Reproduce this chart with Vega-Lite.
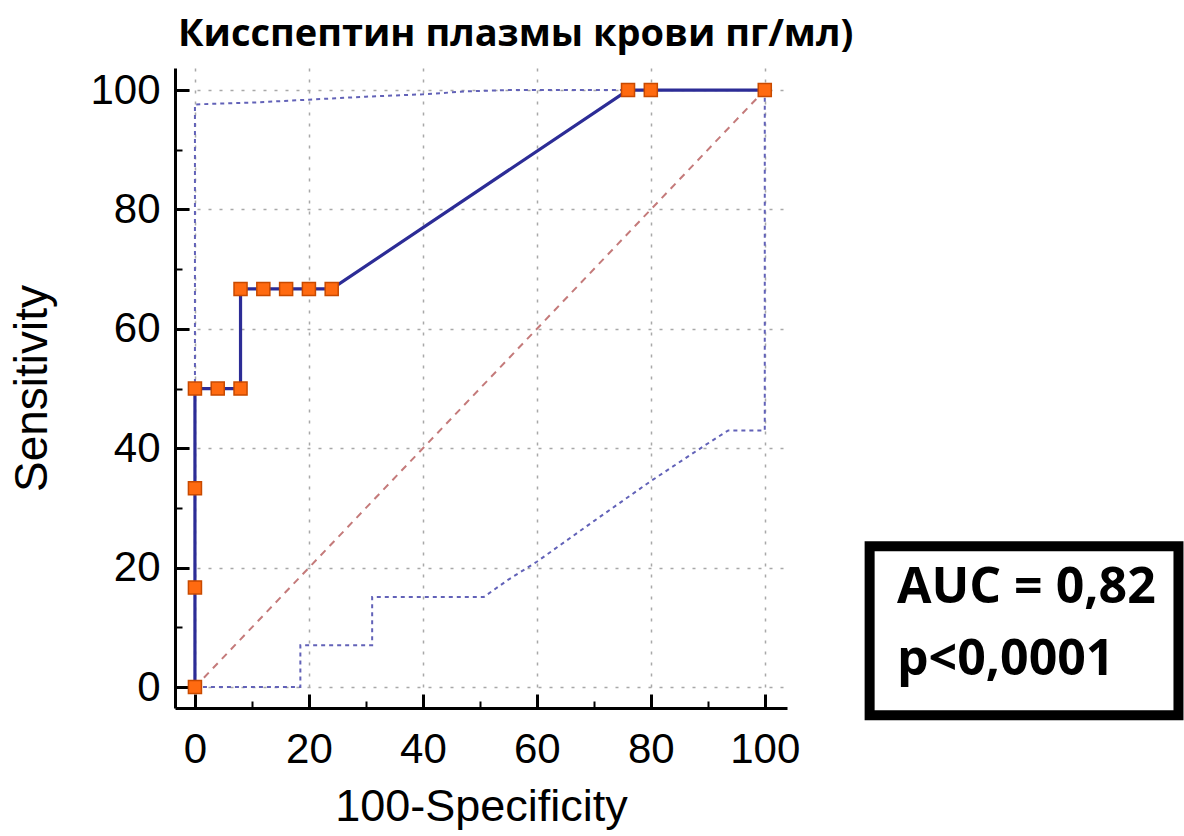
{
  "$schema": "https://vega.github.io/schema/vega-lite/v6.json",
  "width": 612,
  "height": 640,
  "autosize": "none",
  "padding": {"left": 175, "top": 68, "right": 397, "bottom": 128},
  "background": "white",
  "config": {"view": {"stroke": null}},
  "title": {
    "text": "Кисспептин плазмы крови пг/мл)",
    "font": "Open Sans",
    "fontWeight": "bold",
    "fontSize": 38,
    "color": "black",
    "anchor": "start",
    "frame": "group",
    "dx": 3,
    "offset": -16,
    "baseline": "alphabetic"
  },
  "datasets": {
    "roc": [
      {"i": 0, "x": 0, "y": 0},
      {"i": 1, "x": 0, "y": 16.7},
      {"i": 2, "x": 0, "y": 33.3},
      {"i": 3, "x": 0, "y": 50},
      {"i": 4, "x": 4, "y": 50},
      {"i": 5, "x": 8, "y": 50},
      {"i": 6, "x": 8, "y": 66.7},
      {"i": 7, "x": 12, "y": 66.7},
      {"i": 8, "x": 16, "y": 66.7},
      {"i": 9, "x": 20, "y": 66.7},
      {"i": 10, "x": 24, "y": 66.7},
      {"i": 11, "x": 76, "y": 100},
      {"i": 12, "x": 80, "y": 100},
      {"i": 13, "x": 100, "y": 100}
    ],
    "upper": [
      {"i": 0, "x": 0, "y": 0},
      {"i": 1, "x": 0, "y": 97.6},
      {"i": 2, "x": 10, "y": 97.9},
      {"i": 3, "x": 20, "y": 98.4},
      {"i": 4, "x": 30, "y": 98.9},
      {"i": 5, "x": 40, "y": 99.3},
      {"i": 6, "x": 48, "y": 99.8},
      {"i": 7, "x": 55, "y": 100},
      {"i": 8, "x": 100, "y": 100}
    ],
    "lower": [
      {"i": 0, "x": 0, "y": 0},
      {"i": 1, "x": 18.5, "y": 0},
      {"i": 2, "x": 18.5, "y": 7},
      {"i": 3, "x": 31.1, "y": 7},
      {"i": 4, "x": 31.1, "y": 15.1},
      {"i": 5, "x": 50.7, "y": 15.1},
      {"i": 6, "x": 55, "y": 18},
      {"i": 7, "x": 60, "y": 21},
      {"i": 8, "x": 70, "y": 27.8},
      {"i": 9, "x": 80, "y": 34.5},
      {"i": 10, "x": 89.5, "y": 40.5},
      {"i": 11, "x": 93.6, "y": 43},
      {"i": 12, "x": 100, "y": 43},
      {"i": 13, "x": 100, "y": 100}
    ],
    "diag": [
      {"i": 0, "x": 0, "y": 0},
      {"i": 1, "x": 100, "y": 100}
    ],
    "note": [
      {"label": "AUC = 0,82\np<0,0001"}
    ]
  },
  "layer": [
    {
      "data": {"name": "diag"},
      "mark": {"type": "line", "color": "#c47a7a", "strokeWidth": 2, "strokeDash": [7, 6]},
      "encoding": {
        "x": {
          "field": "x",
          "type": "quantitative",
          "scale": {"domain": [-3.5, 103.9], "nice": false, "zero": false},
          "axis": {
            "title": "100-Specificity",
            "titleFont": "Liberation Sans",
            "titleFontSize": 45,
            "titleFontWeight": "normal",
            "titleColor": "black",
            "titlePadding": 7,
            "values": [0, 5, 10, 15, 20, 25, 30, 35, 40, 45, 50, 55, 60, 65, 70, 75, 80, 85, 90, 95, 100],
            "labelExpr": "datum.value % 20 === 0 ? datum.label : ''",
            "labelFont": "Liberation Sans",
            "labelFontSize": 42,
            "labelColor": "black",
            "labelPadding": 35,
            "labelOverlap": false,
            "labelFlush": false,
            "domainColor": "black",
            "domainWidth": 3,
            "tickColor": "black",
            "tickSize": {"condition": {"test": "datum.value % 20 === 0", "value": -14}, "value": -7},
            "tickWidth": {"condition": {"test": "datum.value % 20 === 0", "value": 3}, "value": 2},
            "grid": true,
            "gridColor": "#a8a8a8",
            "gridDash": [3, 8],
            "gridWidth": 1.5,
            "gridOpacity": {"condition": {"test": "datum.value % 20 === 0", "value": 1}, "value": 0}
          }
        },
        "y": {
          "field": "y",
          "type": "quantitative",
          "scale": {"domain": [-3.5, 103.7], "nice": false, "zero": false},
          "axis": {
            "title": "Sensitivity",
            "titleFont": "Liberation Sans",
            "titleFontSize": 46,
            "titleFontWeight": "normal",
            "titleColor": "black",
            "titlePadding": 33,
            "values": [0, 5, 10, 15, 20, 25, 30, 35, 40, 45, 50, 55, 60, 65, 70, 75, 80, 85, 90, 95, 100],
            "labelExpr": "datum.value % 20 === 0 ? datum.label : ''",
            "labelFont": "Liberation Sans",
            "labelFontSize": 42,
            "labelColor": "black",
            "labelPadding": 29,
            "labelOverlap": false,
            "labelFlush": false,
            "domainColor": "black",
            "domainWidth": 3,
            "tickColor": "black",
            "tickSize": {"condition": {"test": "datum.value % 20 === 0", "value": -14}, "value": -7},
            "tickWidth": {"condition": {"test": "datum.value % 20 === 0", "value": 3}, "value": 2},
            "grid": true,
            "gridColor": "#a8a8a8",
            "gridDash": [3, 8],
            "gridWidth": 1.5,
            "gridOpacity": {"condition": {"test": "datum.value % 20 === 0", "value": 1}, "value": 0}
          }
        },
        "order": {"field": "i"}
      }
    },
    {
      "data": {"name": "lower"},
      "mark": {"type": "line", "color": "#6262b8", "strokeWidth": 2, "strokeDash": [4, 4]},
      "encoding": {
        "x": {"field": "x", "type": "quantitative"},
        "y": {"field": "y", "type": "quantitative"},
        "order": {"field": "i"}
      }
    },
    {
      "data": {"name": "upper"},
      "mark": {"type": "line", "color": "#6262b8", "strokeWidth": 2, "strokeDash": [4, 4]},
      "encoding": {
        "x": {"field": "x", "type": "quantitative"},
        "y": {"field": "y", "type": "quantitative"},
        "order": {"field": "i"}
      }
    },
    {
      "data": {"name": "roc"},
      "mark": {"type": "line", "color": "#2c2c96", "strokeWidth": 3.2},
      "encoding": {
        "x": {"field": "x", "type": "quantitative"},
        "y": {"field": "y", "type": "quantitative"},
        "order": {"field": "i"}
      }
    },
    {
      "data": {"name": "roc"},
      "mark": {"type": "point", "shape": "square", "filled": true, "size": 170, "fill": "#ff6a10", "stroke": "#c84a00", "strokeWidth": 1.5, "opacity": 1},
      "encoding": {
        "x": {"field": "x", "type": "quantitative"},
        "y": {"field": "y", "type": "quantitative"}
      }
    },
    {
      "data": {"name": "note"},
      "mark": {"type": "rect", "fill": "white", "stroke": "black", "strokeWidth": 10, "clip": false},
      "encoding": {
        "x": {"datum": 118.4},
        "x2": {"datum": 172.6},
        "y": {"datum": 23.6},
        "y2": {"datum": -4.7}
      }
    },
    {
      "data": {"name": "note"},
      "mark": {"type": "text", "align": "left", "baseline": "alphabetic", "font": "Open Sans", "fontWeight": "bold", "fontSize": 50, "color": "black", "lineBreak": "\n", "lineHeight": 72, "clip": false},
      "encoding": {
        "x": {"datum": 123.2},
        "y": {"datum": 14.1},
        "text": {"field": "label"}
      }
    }
  ]
}
